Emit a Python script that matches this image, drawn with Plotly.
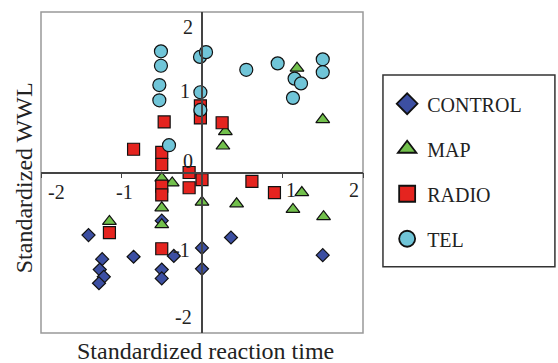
import plotly.graph_objects as go

# ---- data (standardized reaction time, standardized WWL) ----
control_x = [-1.41, -1.24, -1.27, -1.22, -1.28, -0.85, -0.50, -0.50, -0.35, 0.00, 0.00, 0.36, 1.50, -0.50]
control_y = [-0.78, -1.08, -1.21, -1.30, -1.38, -1.05, -1.21, -1.32, -1.04, -0.94, -1.20, -0.81, -1.03, -0.60]

map_x = [-1.15, -0.50, -0.37, -0.50, -0.50, 0.00, 0.43, 1.13, 1.24, 1.51, 0.29, 0.26, 1.18, 1.50]
map_y = [-0.61, -0.07, -0.13, -0.44, -0.65, -0.37, -0.39, -0.46, -0.25, -0.55, 0.51, 0.33, 1.30, 0.66]

radio_x = [-0.85, -0.47, -0.50, -0.50, -0.50, -0.50, -0.50, -1.15, -0.16, -0.16, 0.00, -0.02, -0.02, 0.25, 0.62, 0.90]
radio_y = [0.29, 0.63, 0.25, 0.10, -0.17, -0.28, -0.95, -0.75, 0.00, -0.19, -0.09, 0.83, 0.68, 0.62, -0.11, -0.25]

tel_x = [-0.51, -0.51, -0.53, -0.53, -0.41, -0.025, 0.05, -0.02, -0.02, 0.55, 0.94, 1.15, 1.23, 1.13, 1.50, 1.50]
tel_y = [1.51, 1.33, 1.09, 0.90, 0.34, 1.44, 1.50, 1.00, 0.78, 1.28, 1.36, 1.17, 1.11, 0.93, 1.41, 1.25]

x_ticks = [-2, -1, 1, 2]
y_ticks = [-2, -1, 0, 1, 2]
x_title = "Standardized reaction time"
y_title = "Standardized WWL"

FONT = "Liberation Serif"

fig = go.Figure()
series = [
    ("CONTROL", control_x, control_y, "diamond", 10, 16, "#3c4fa2"),
    ("MAP", map_x, map_y, "triangle-up", 12, 16, "#72c04c"),
    ("RADIO", radio_x, radio_y, "square", 12, 16, "#e5241f"),
    ("TEL", tel_x, tel_y, "circle", 13, 16, "#70c5d8"),
]
for name, xs, ys, sym, sz, lsz, col in series:
    fig.add_trace(go.Scatter(
        x=xs, y=ys, mode="markers", name=name, legendgroup=name, showlegend=False,
        marker=dict(symbol=sym, size=sz, color=col, line=dict(color="#111111", width=1.2)),
    ))
for name, xs, ys, sym, sz, lsz, col in series:
    fig.add_trace(go.Scatter(
        x=[None], y=[None], mode="markers", name=name, legendgroup=name, showlegend=True,
        marker=dict(symbol=sym, size=lsz, color=col, line=dict(color="#111111", width=1.8)),
    ))

# tick labels placed beside the crossing axes
x_lab_off = {-2: (0.19, -0.24), -1: (0.04, -0.24), 1: (0.10, -0.22), 2: (-0.11, -0.22)}
y_lab_off = {2: (-0.175, -0.19), 1: (-0.21, 0.01), 0: (-0.175, 0.14), -1: (-0.25, 0.04), -2: (-0.225, 0.20)}
annotations = []
for t in x_ticks:
    dx, dy = x_lab_off[t]
    annotations.append(dict(x=t + dx, y=dy, xref="x", yref="y", text=str(t), showarrow=False,
                            font=dict(family=FONT, size=20, color="#222")))
for t in y_ticks:
    dx, dy = y_lab_off[t]
    annotations.append(dict(x=dx, y=t + dy, xref="x", yref="y", text=str(t), showarrow=False,
                            font=dict(family=FONT, size=20, color="#222")))
annotations.append(dict(x=0.51, y=-0.055, xref="paper", yref="paper", text=x_title, showarrow=False,
                        yanchor="middle", font=dict(family=FONT, size=24, color="#222")))
annotations.append(dict(x=-0.053, y=0.485, xref="paper", yref="paper", text=y_title, showarrow=False,
                        textangle=-90, xanchor="center", font=dict(family=FONT, size=24, color="#222")))

fig.update_layout(
    width=558, height=363,
    margin=dict(l=41, r=195, t=12, b=30),
    paper_bgcolor="white", plot_bgcolor="white",
    showlegend=True,
    legend=dict(x=1.075, y=0.775, xanchor="left", yanchor="top",
                font=dict(family=FONT, size=20, color="#222"),
                bgcolor="rgba(0,0,0,0)", borderwidth=0, tracegroupgap=16),
    xaxis=dict(range=[-2, 2], anchor="free", position=0.5, showline=True, linecolor="#444",
               linewidth=1.5, showgrid=False, zeroline=False, showticklabels=False,
               tickvals=x_ticks, ticks="outside", ticklen=5, tickcolor="#444"),
    yaxis=dict(range=[-2, 2], anchor="free", position=0.5, showline=True, linecolor="#444",
               linewidth=1.5, showgrid=False, zeroline=False, showticklabels=False,
               tickvals=y_ticks, ticks=""),
    annotations=annotations,
    shapes=[
        dict(type="rect", xref="paper", yref="paper", x0=0, y0=0, x1=1, y1=1,
             line=dict(color="#999999", width=1.5), layer="below"),
        dict(type="rect", xref="paper", yref="paper", x0=1.062, y0=0.206, x1=1.596, y1=0.804,
             line=dict(color="#333333", width=1.5)),
    ],
)

fig.write_html("out.html")
